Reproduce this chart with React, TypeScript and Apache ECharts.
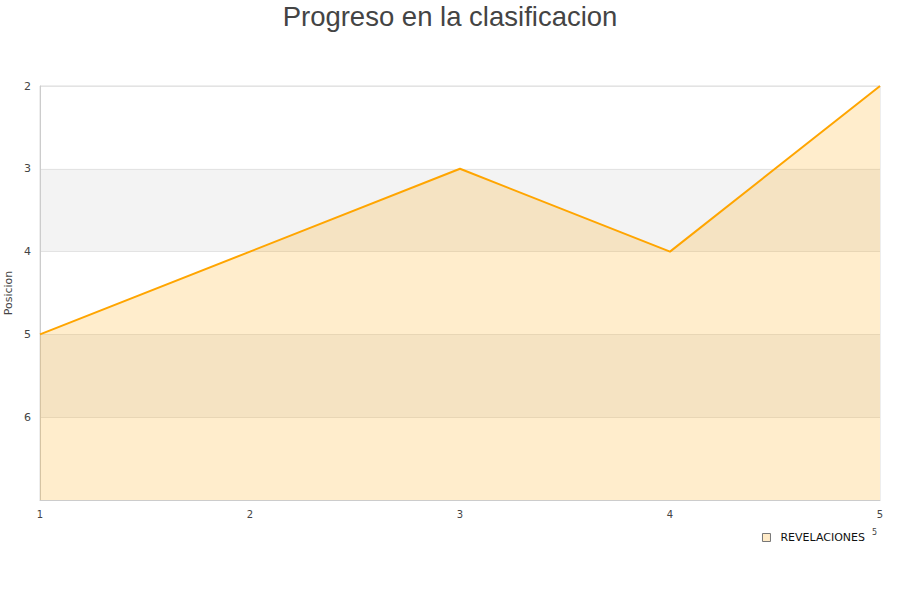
import React, { useEffect, useRef } from "react";
import * as echarts from "echarts";

const categories = ["1", "2", "3", "4", "5"];
const positions = [5, 4, 3, 4, 2];
const seriesName = "REVELACIONES";
const titleText = "Progreso en la clasificacion";
const yAxisName = "Posicion";

export default function App() {
  const ref = useRef<HTMLDivElement>(null);
  useEffect(() => {
    document.body.style.margin = "0";
    const chart = echarts.init(ref.current!, null, { renderer: "svg" });
    chart.setOption({
      animation: false,
      title: {
        text: titleText,
        left: "center",
        top: -3,
        textStyle: {
          fontFamily: "Liberation Sans",
          fontSize: 27.5,
          fontWeight: "normal",
          color: "#444",
        },
      },
      grid: {
        left: 40,
        right: 20,
        top: 86,
        bottom: 100,
        outerBoundsMode: "none",
        containLabel: false,
        show: true,
        borderColor: "#ddd",
        borderWidth: 1,
        backgroundColor: "transparent",
      },
      legend: {
        data: [seriesName],
        right: 30,
        top: 527,
        icon: "rect",
        itemWidth: 8,
        itemHeight: 8,
        itemStyle: { color: "#FFEBC8", borderColor: "#777", borderWidth: 1 },
        textStyle: {
          fontFamily: "DejaVu Sans",
          fontSize: 11,
          color: "#111",
          padding: [0, 0, 0, 5],
        },
      },
      xAxis: {
        type: "category",
        data: categories,
        boundaryGap: false,
        axisLine: { show: true, lineStyle: { color: "#ccc" } },
        axisTick: { show: false },
        axisLabel: { fontFamily: "DejaVu Sans", fontSize: 10, color: "#444", margin: 9 },
        splitLine: { show: false },
      },
      yAxis: {
        type: "value",
        inverse: true,
        min: 2,
        max: 7,
        interval: 1,
        name: yAxisName,
        nameLocation: "middle",
        nameGap: 26,
        nameMoveOverlap: false,
        nameTextStyle: { fontFamily: "DejaVu Sans", fontSize: 11, color: "#444" },
        axisLine: { show: true, lineStyle: { color: "#ccc" } },
        axisTick: { show: false },
        axisLabel: {
          fontFamily: "DejaVu Sans",
          fontSize: 11,
          color: "#444",
          margin: 9,
          showMaxLabel: false,
        },
        splitLine: { show: true, lineStyle: { color: "#e3e3e3" } },
        splitArea: { show: true, areaStyle: { color: ["#ffffff", "#f3f3f3"] } },
      },
      graphic: [
        {
          type: "text",
          left: 872,
          top: 528,
          style: { text: "5", fontSize: 8, fontFamily: "DejaVu Sans", fill: "#444" },
        },
      ],
      series: [
        {
          name: seriesName,
          type: "line",
          data: positions,
          showSymbol: false,
          symbol: "none",
          lineStyle: { color: "#FFA500", width: 2 },
          itemStyle: { color: "#FFEBC8" },
          areaStyle: { color: "#FFA500", opacity: 0.2, origin: "end" },
        },
      ],
    });
    return () => chart.dispose();
  }, []);
  return <div ref={ref} style={{ width: 900, height: 600 }} />;
}
